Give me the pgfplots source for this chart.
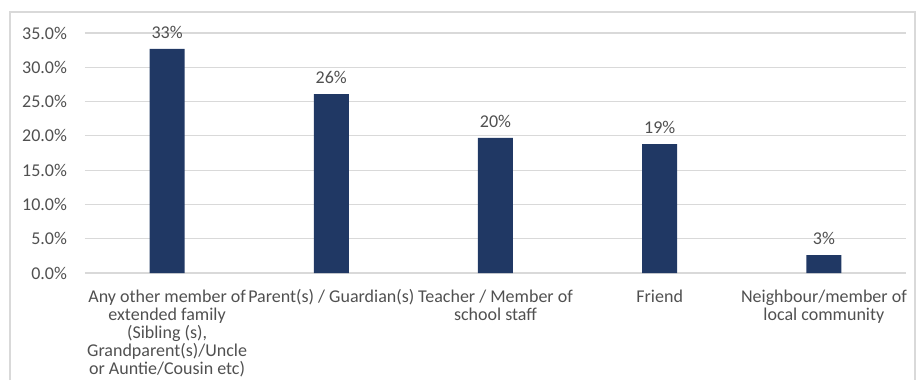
\documentclass[border=0pt]{standalone}
\usepackage{pgfplots}
\pgfplotsset{compat=1.18}
\usepackage{fontspec}
\setmainfont{Carlito}
\definecolor{barc}{HTML}{203864}
\definecolor{txt}{HTML}{505050}
\definecolor{grd}{HTML}{D9D9D9}
\definecolor{frm}{HTML}{D9D9D9}
\begin{document}
\begin{tikzpicture}[x=1pt,y=1pt]
\useasboundingbox (-63.75,-80.25) rectangle (624.75,204.75);
\draw[frm, line width=0.8pt] (-56.25,-80.25) -- (-56.25,195.75) -- (622.5,195.75) -- (622.5,-80.25);
\begin{axis}[
  at={(0,0)}, anchor=south west,
  scale only axis,
  width=615.75pt, height=180pt,
  xmin=-0.5, xmax=4.5,
  ymin=0, ymax=35,
  ytick={0,5,...,35},
  xtick={0,1,2,3,4},
  xticklabels={{Any other member of\\extended family\\(Sibling (s),\\Grandparent(s)/Uncle\\or Auntie/Cousin etc)},
               {Parent(s) / Guardian(s)},
               {Teacher / Member of\\school staff},
               {Friend},
               {Neighbour/member of\\local community}},
  xticklabel style={align=center, font=\fontsize{13.5}{13.6}\selectfont, text=txt, anchor=north, yshift=-9pt},
  yticklabel={\pgfmathprintnumber[fixed,fixed zerofill,precision=1]{\tick}\%},
  yticklabel style={font=\fontsize{13.5}{14}\selectfont, text=txt, xshift=-10pt},
  /pgf/number format/assume math mode=true,
  axis line style={draw=none},
  ymajorgrids,
  grid style={grd, line width=0.8pt},
  major tick length=0pt,
  ybar, bar width=26.25pt,
  nodes near coords={\pgfmathprintnumber[fixed,precision=0]{\pgfplotspointmeta}\%},
  nodes near coords style={font=\fontsize{13.5}{14}\selectfont, text=txt, yshift=4pt},
  clip=false,
]
\addplot[fill=barc, draw=none] coordinates {(0,32.7) (1,26.1) (2,19.7) (3,18.8) (4,2.6)};
\end{axis}
\end{tikzpicture}
\end{document}
